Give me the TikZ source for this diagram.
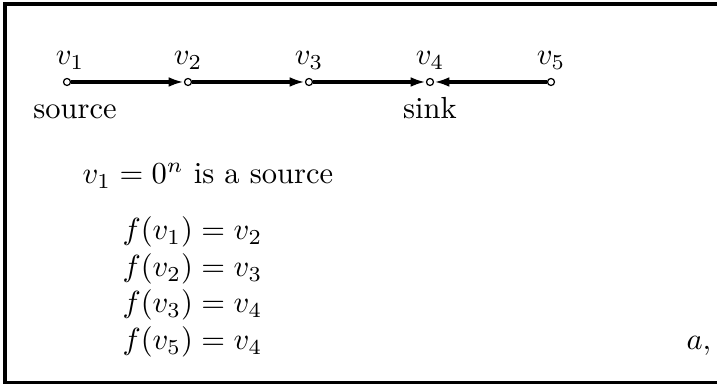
\documentclass[tikz,border=0pt]{standalone}
\usepackage{amsmath,amssymb}
\usetikzlibrary{arrows.meta,positioning}

\begin{document}
\begin{tikzpicture}[x=0.011525cm,y=-0.011525cm,
  vert/.style={circle,draw,fill=white,line width=0.4pt,inner sep=0pt,minimum size=2.3pt},
  edge/.style={-{Latex[length=5pt,width=3.2pt]},line width=1pt},
  txt/.style={inner sep=0pt,anchor=base west}]
  \useasboundingbox (0,0) rectangle (717,385);
  % frame, open on the right
  \draw[line width=1pt] (717,4) -- (5,4) -- (5,382.5) -- (717,382.5);
  % the path
  \node[vert] (v1) at (67,82) {};
  \node[vert] (v2) at (188,82) {};
  \node[vert] (v3) at (309,82) {};
  \node[vert] (v4) at (430,82) {};
  \node[vert] (v5) at (551,82) {};
  \draw[edge] (v1) -- (v2);
  \draw[edge] (v2) -- (v3);
  \draw[edge] (v3) -- (v4);
  \draw[edge] (v5) -- (v4);
  % labels of the vertices
  \node[anchor=base] (l1) at (70,64.5) {$v_1$};
  \node[anchor=base] (l2) at (188,64.5) {$v_2$};
  \node[anchor=base] (l3) at (309,64.5) {$v_3$};
  \node[anchor=base] (l4) at (430,64.5) {$v_4$};
  \node[anchor=base] (l5) at (551,64.5) {$v_5$};
  \node[anchor=base] (source) at (75,118.5) {source};
  \node[anchor=base] (sink) at (430,118.5) {sink};
  % the text
  \node[txt] (src) at (82,184) {$v_1 = 0^n$ is a source};
  \node[txt] (f1) at (122,240) {$f(v_1) = v_2$};
  \node[txt] (f2) at (122,276.5) {$f(v_2) = v_3$};
  \node[txt] (f3) at (122,313) {$f(v_3) = v_4$};
  \node[txt] (f5) at (122,349.5) {$f(v_5) = v_4$};
  \node[txt] (a) at (686,350) {$a,$};
\end{tikzpicture}
\end{document}
